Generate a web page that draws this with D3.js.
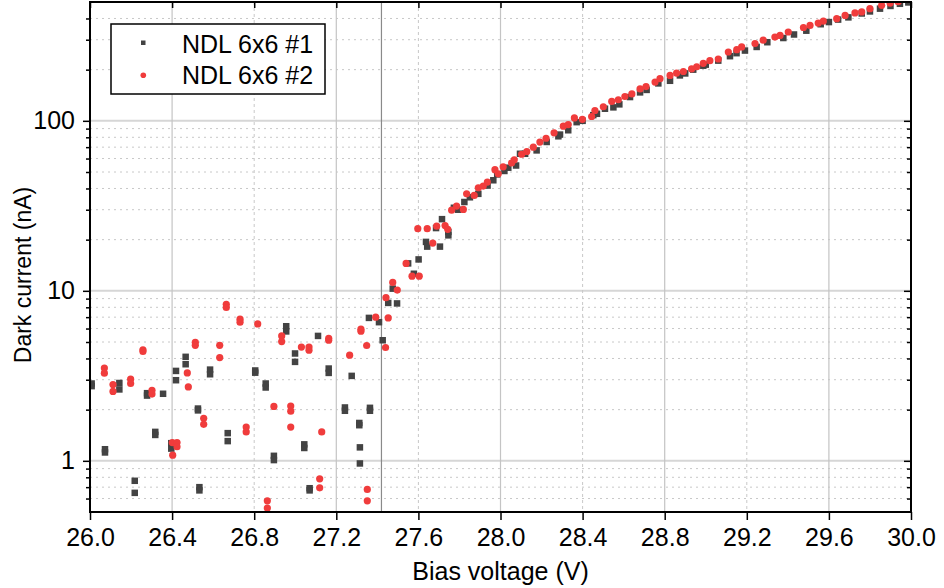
<!DOCTYPE html>
<html>
<head>
<meta charset="utf-8">
<script src="https://cdn.jsdelivr.net/npm/d3@7"></script>
<style>
	body { margin: 0; background: #fff; }
	svg text { font-family: "Liberation Sans", Arial, sans-serif; fill: #000; }
</style>
</head>
<body>
<div id="chart"></div>
<script>
(function (d3) {

	'use strict';

	// [bias voltage (V), dark current (nA)]
	var ndl1Points = [
		[26.008, 2.85], [26.008, 2.75], [26.073, 1.17], [26.073, 1.12], [26.143, 2.87], [26.143, 2.63],
		[26.218, 0.763], [26.218, 0.648], [26.278, 2.5], [26.278, 2.42], [26.318, 1.48], [26.318, 1.42],
		[26.356, 2.48], [26.396, 1.27], [26.396, 1.18], [26.419, 3.38], [26.419, 2.98], [26.466, 4.09],
		[26.466, 3.7], [26.526, 2.03], [26.526, 1.98], [26.533, 0.70], [26.533, 0.67], [26.585, 3.44],
		[26.585, 3.23], [26.671, 1.455], [26.671, 1.306], [26.805, 3.4], [26.805, 3.3], [26.856, 2.85],
		[26.856, 2.7], [26.896, 1.07], [26.896, 1.01], [26.956, 6.19], [26.956, 5.77], [26.999, 4.28],
		[26.999, 3.82], [27.044, 1.25], [27.044, 1.19], [27.07, 0.69], [27.07, 0.67], [27.111, 5.43],
		[27.163, 3.49], [27.163, 3.29], [27.242, 2.06], [27.242, 1.97], [27.275, 3.16], [27.312, 1.67],
		[27.312, 1.62], [27.315, 1.2], [27.315, 0.965], [27.364, 2.05], [27.364, 1.97], [27.359, 6.93],
		[27.408, 6.54], [27.426, 5.12], [27.453, 8.49], [27.475, 10.3], [27.496, 8.43], [27.55, 14.5],
		[27.578, 12.6], [27.601, 15.3], [27.637, 19.4], [27.643, 18.2], [27.686, 23.4], [27.705, 18.2],
		[27.715, 26.4], [27.746, 22.2], [27.746, 21.2], [27.773, 30.8], [27.794, 30.0], [27.824, 33.3],
		[27.851, 35.5], [27.892, 37.2], [27.937, 41.6], [27.965, 44.7], [27.984, 48.4], [28.019, 50.7],
		[28.038, 53], [28.076, 54.6], [28.095, 64], [28.12, 64], [28.176, 67], [28.225, 75.1],
		[28.282, 81.1], [28.29, 83], [28.33, 88], [28.371, 98.2], [28.4, 100], [28.452, 108],
		[28.47, 110], [28.509, 117.8], [28.55, 120], [28.579, 125], [28.631, 138], [28.68, 147],
		[28.712, 152], [28.769, 166], [28.826, 172], [28.874, 185], [28.9, 190], [28.939, 200],
		[28.988, 211], [29.0, 214], [29.061, 226], [29.118, 240], [29.15, 250], [29.191, 259],
		[29.248, 272], [29.3, 290], [29.378, 307], [29.43, 322], [29.49, 339], [29.56, 370],
		[29.6, 381], [29.645, 394], [29.695, 406], [29.76, 428], [29.8, 440], [29.849, 457],
		[29.9, 474], [29.946, 488], [29.987, 497]
	];

	var ndl2Points = [
		[26.07, 3.51], [26.07, 3.28], [26.112, 2.81], [26.112, 2.56], [26.198, 3.02], [26.198, 2.85],
		[26.258, 4.5], [26.258, 4.4], [26.302, 2.6], [26.302, 2.47], [26.401, 1.28], [26.403, 1.08],
		[26.424, 1.28], [26.424, 1.21], [26.474, 3.29], [26.479, 2.72], [26.513, 4.98], [26.513, 4.78],
		[26.554, 1.78], [26.554, 1.64], [26.632, 4.78], [26.632, 4.05], [26.664, 8.34], [26.664, 7.98],
		[26.731, 6.81], [26.731, 6.54], [26.761, 1.58], [26.761, 1.48], [26.817, 6.39], [26.864, 0.582],
		[26.864, 0.527], [26.896, 2.09], [26.934, 5.43], [26.934, 5.03], [26.978, 2.1], [26.978, 1.96],
		[26.978, 1.58], [27.03, 4.67], [27.067, 4.67], [27.067, 4.47], [27.119, 0.784], [27.119, 0.694],
		[27.129, 1.48], [27.163, 5.26], [27.163, 5.12], [27.265, 4.18], [27.32, 5.95], [27.32, 5.79],
		[27.348, 4.77], [27.351, 0.679], [27.351, 0.582], [27.392, 7.0], [27.44, 4.64], [27.442, 9.12],
		[27.453, 6.93], [27.475, 11.2], [27.497, 10.1], [27.54, 14.5], [27.569, 12.2], [27.604, 12.2],
		[27.597, 23.2], [27.643, 23.2], [27.67, 19.1], [27.689, 24.0], [27.73, 24.2], [27.743, 23.0],
		[27.762, 29.8], [27.786, 31.5], [27.819, 30.1], [27.835, 37.2], [27.872, 36.4], [27.892, 40.4],
		[27.916, 41.3], [27.936, 43.6], [27.973, 51.6], [27.989, 48.8], [28.013, 53.6], [28.054, 56.5],
		[28.067, 59], [28.103, 63.6], [28.128, 66], [28.16, 70], [28.192, 75], [28.222, 79],
		[28.261, 85], [28.306, 93], [28.33, 95], [28.36, 104], [28.399, 102], [28.444, 106],
		[28.46, 115], [28.501, 121], [28.542, 130], [28.574, 133], [28.606, 139], [28.64, 144],
		[28.68, 154], [28.709, 159], [28.753, 169], [28.777, 177], [28.826, 185], [28.858, 191],
		[28.891, 195], [28.931, 202], [28.956, 208], [28.988, 218], [29.02, 226], [29.061, 231],
		[29.11, 254], [29.151, 262], [29.175, 272], [29.24, 285], [29.28, 298], [29.337, 311],
		[29.362, 318], [29.402, 333], [29.476, 354], [29.508, 364], [29.548, 376], [29.573, 386],
		[29.638, 399], [29.679, 417], [29.727, 431], [29.76, 437], [29.8, 457], [29.857, 478],
		[29.898, 493], [29.937, 502]
	];

	var seriesNames = ['NDL 6x6 #1', 'NDL 6x6 #2'];
	var xTickValues = [26.0, 26.4, 26.8, 27.2, 27.6, 28.0, 28.4, 28.8, 29.2, 29.6, 30.0];
	var xGridMajor = [26.4, 27.2, 28.0, 28.8, 29.6];
	var xGridMinor = [26.8, 27.6, 28.4, 29.2];
	var yTickValues = [1, 10, 100];
	var yMinorValues = [0.6, 0.7, 0.8, 0.9, 2, 3, 4, 5, 6, 7, 8, 9, 20, 30, 40, 50, 60, 70, 80, 90, 200, 300, 400];
	var refVoltage = 27.42;

	var width = 944;
	var height = 588;
	var left = 90, right = 911, top = 2, bottom = 512;

	var svg = d3.select('#chart')
		.append('svg')
		.attr('width', width)
		.attr('height', height);

	var x = d3.scaleLinear().domain([26, 30]).range([left, right]);
	var y = d3.scaleLog().domain([0.5, 500]).range([bottom, top]);

	// grid
	var grid = svg.append('g');

	grid.selectAll('.hminor').data(yMinorValues).enter()
		.append('line')
		.attr('x1', left).attr('x2', right)
		.attr('y1', function (d) { return y(d); })
		.attr('y2', function (d) { return y(d); })
		.attr('stroke', '#c8c8c8')
		.attr('stroke-width', 1)
		.style('stroke-dasharray', ('2, 4'));

	grid.selectAll('.hmajor').data(yTickValues).enter()
		.append('line')
		.attr('x1', left).attr('x2', right)
		.attr('y1', function (d) { return y(d); })
		.attr('y2', function (d) { return y(d); })
		.attr('stroke', '#d6d6d6')
		.attr('stroke-width', 2);

	grid.selectAll('.vminor').data(xGridMinor).enter()
		.append('line')
		.attr('y1', top).attr('y2', bottom)
		.attr('x1', function (d) { return x(d); })
		.attr('x2', function (d) { return x(d); })
		.attr('stroke', '#c8c8c8')
		.attr('stroke-width', 1)
		.style('stroke-dasharray', ('3, 3'));

	grid.selectAll('.vmajor').data(xGridMajor).enter()
		.append('line')
		.attr('y1', top).attr('y2', bottom)
		.attr('x1', function (d) { return x(d); })
		.attr('x2', function (d) { return x(d); })
		.attr('stroke', '#c4c4c4')
		.attr('stroke-width', 1.2);

	grid.append('line')
		.attr('y1', top).attr('y2', bottom)
		.attr('x1', x(refVoltage)).attr('x2', x(refVoltage))
		.attr('stroke', '#8a8a8a')
		.attr('stroke-width', 1.2);

	// points
	svg.append('clipPath').attr('id', 'plot-clip')
		.append('rect')
		.attr('x', left).attr('y', top)
		.attr('width', right - left).attr('height', bottom - top);

	var marks = svg.append('g').attr('clip-path', 'url(#plot-clip)');
	var sq = 6.5;

	marks.selectAll('.s1').data(ndl1Points).enter()
		.append('rect')
		.attr('x', function (d) { return x(d[0]) - sq / 2; })
		.attr('y', function (d) { return y(d[1]) - sq / 2; })
		.attr('width', sq).attr('height', sq)
		.attr('fill', '#434343');

	marks.selectAll('.s2').data(ndl2Points).enter()
		.append('circle')
		.attr('cx', function (d) { return x(d[0]); })
		.attr('cy', function (d) { return y(d[1]); })
		.attr('r', 3.6)
		.attr('fill', '#f03c3c');

	// axes
	var fontSize = '25px';

	var xAxis = svg.append('g')
		.attr('transform', 'translate(0,' + bottom + ')')
		.call(d3.axisBottom(x).tickValues(xTickValues).tickFormat(d3.format('.1f'))
			.tickSize(8).tickSizeOuter(0).tickPadding(8));
	xAxis.selectAll('text').style('font-size', fontSize);

	svg.append('g')
		.attr('transform', 'translate(0,' + top + ')')
		.call(d3.axisBottom(x).tickValues(xTickValues).tickFormat('').tickSize(6).tickSizeOuter(0));

	var yAxis = svg.append('g')
		.attr('transform', 'translate(' + left + ',0)')
		.call(d3.axisLeft(y).tickValues(yTickValues).tickFormat(d3.format('d'))
			.tickSize(7).tickSizeOuter(0).tickPadding(8));
	yAxis.selectAll('text').style('font-size', fontSize);

	svg.append('g')
		.attr('transform', 'translate(' + left + ',0)')
		.call(d3.axisLeft(y).tickValues(yMinorValues).tickFormat('').tickSize(4).tickSizeOuter(0));

	svg.append('g')
		.attr('transform', 'translate(' + right + ',0)')
		.call(d3.axisLeft(y).tickValues(yTickValues).tickFormat('').tickSize(7).tickSizeOuter(0));

	svg.append('g')
		.attr('transform', 'translate(' + right + ',0)')
		.call(d3.axisLeft(y).tickValues(yMinorValues).tickFormat('').tickSize(4).tickSizeOuter(0));

	svg.selectAll('.domain').remove();
	svg.selectAll('.tick line').attr('stroke', '#000').attr('stroke-width', 1.5);

	// frame
	svg.append('rect')
		.attr('x', left).attr('y', top)
		.attr('width', right - left).attr('height', bottom - top)
		.attr('fill', 'none')
		.attr('stroke', '#000')
		.attr('stroke-width', 2);

	// titles
	svg.append('text')
		.attr('x', (left + right) / 2)
		.attr('y', 580)
		.attr('text-anchor', 'middle')
		.style('font-size', fontSize)
		.text('Bias voltage (V)');

	svg.append('text')
		.attr('transform', 'translate(31,275) rotate(-90)')
		.attr('text-anchor', 'middle')
		.style('font-size', '23px')
		.text('Dark current (nA)');

	// legend
	var legend = svg.append('g');

	legend.append('rect')
		.attr('x', 111).attr('y', 24)
		.attr('width', 214).attr('height', 70)
		.attr('fill', '#fff')
		.attr('stroke', '#000')
		.attr('stroke-width', 1.5);

	legend.append('rect')
		.attr('x', 141).attr('y', 40.5)
		.attr('width', 4.5).attr('height', 4.5)
		.attr('fill', '#434343');

	legend.append('circle')
		.attr('cx', 143.3).attr('cy', 75.3)
		.attr('r', 2.8)
		.attr('fill', '#f03c3c');

	legend.selectAll('.label').data(seriesNames).enter()
		.append('text')
		.attr('x', 182)
		.attr('y', function (d, i) { return 53.3 + i * 31; })
		.style('font-size', fontSize)
		.text(function (d) { return d; });

})(d3);
</script>
</body>
</html>
